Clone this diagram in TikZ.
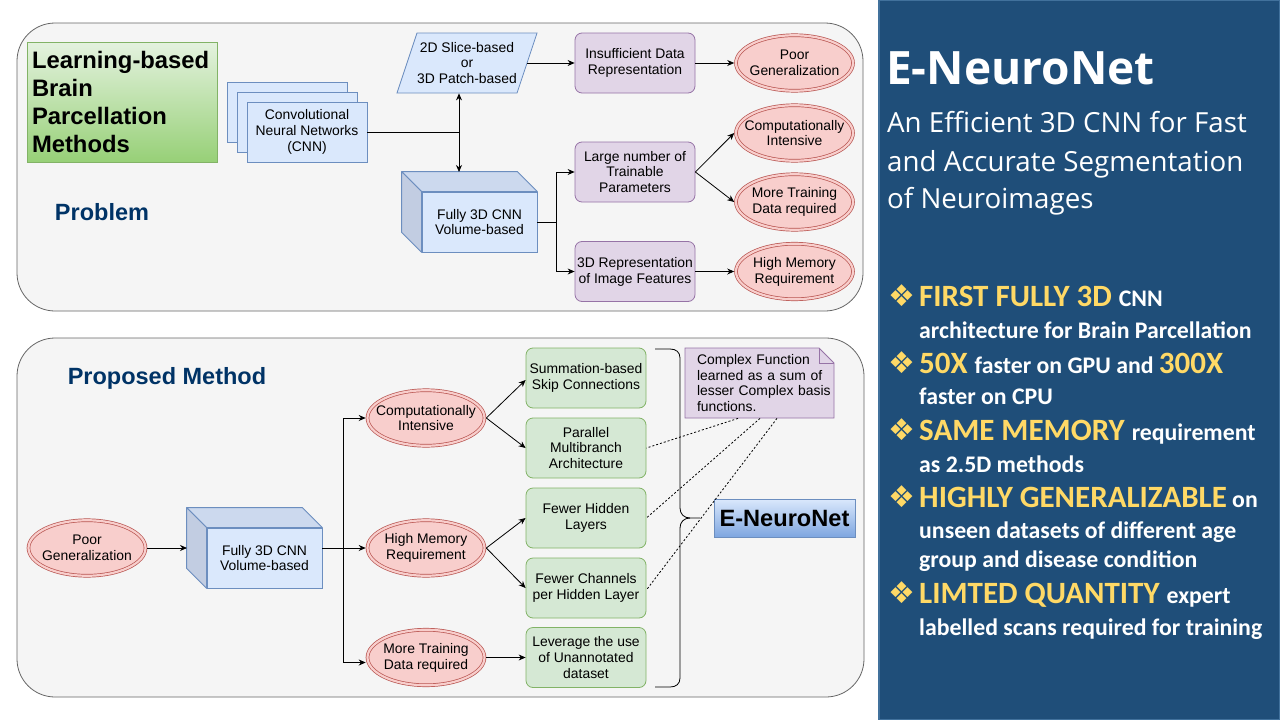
\documentclass[tikz,border=0pt]{standalone}
\usepackage{fontspec}
\setmainfont{Liberation Sans}
\newfontfamily\osfont{Open Sans}
\newfontfamily\crfont{Carlito}
\newfontfamily\djfont{DejaVu Sans}
\usetikzlibrary{shapes.geometric,arrows.meta,calc}
\definecolor{contF}{HTML}{F5F5F5}
\definecolor{contS}{HTML}{666666}
\definecolor{blueF}{HTML}{DAE8FC}
\definecolor{blueS}{HTML}{6C8EBF}
\definecolor{cubeTop}{HTML}{CCD9EE}
\definecolor{cubeSide}{HTML}{C2CDE2}
\definecolor{purF}{HTML}{E1D5E7}
\definecolor{purS}{HTML}{9673A6}
\definecolor{redF}{HTML}{F8CECC}
\definecolor{redS}{HTML}{B85450}
\definecolor{grnF}{HTML}{D5E8D4}
\definecolor{grnS}{HTML}{82B366}
\definecolor{grnTop}{HTML}{E4F2DF}
\definecolor{grnBot}{HTML}{97D077}
\definecolor{eTop}{HTML}{DAE8FC}
\definecolor{eBot}{HTML}{7EA6E0}
\definecolor{navy}{HTML}{003366}
\definecolor{panel}{HTML}{1F4E79}
\definecolor{panelS}{HTML}{41719C}
\definecolor{gold}{HTML}{FFD966}
\newcommand\dgf{\fontsize{13.9}{15.9}\selectfont}
\newcommand\ylw[1]{{\color{gold}\fontsize{31}{32}\selectfont #1}}
\tikzset{
  base/.style={font=\dgf, align=center, inner sep=0pt, line width=0.8pt},
  bluebox/.style={base, rectangle, draw=blueS, fill=blueF, minimum width=120pt, minimum height=60pt},
  purbox/.style={base, rectangle, rounded corners=7pt, draw=purS, fill=purF, minimum width=120pt, minimum height=60pt},
  grnbox/.style={base, rectangle, rounded corners=7pt, draw=grnS, fill=grnF, minimum width=120pt, minimum height=60pt},
  dbl/.style={ellipse, draw=redS, fill=redF, double=redF, double distance=2.2pt, line width=0.7pt,
     minimum width=117pt, minimum height=55.5pt, inner sep=0pt, outer sep=1.8pt,
     label={[font=\dgf, align=center, inner sep=0pt]center:{#1}}},
  container/.style={draw=contS, fill=contF, rounded corners=38pt, line width=0.8pt},
  ln/.style={line width=0.8pt, draw=black},
  arr/.style={ln, -{Stealth[length=7pt,width=6pt]}},
  dotln/.style={line width=0.8pt, dash pattern=on 2pt off 2pt},
  heading/.style={font=\bfseries\fontsize{23.5}{26}\selectfont, text=navy, inner sep=0pt},
  wtxt/.style={anchor=base west, inner sep=0pt, text=white, font=\crfont\bfseries\fontsize{23.8}{26}\selectfont},
  dia/.style={text=gold, inner sep=0pt, font=\djfont\fontsize{30}{30}\selectfont},
  sub/.style={anchor=base west, inner sep=0pt, text=white, font=\osfont\fontsize{27.7}{30}\selectfont}
}
\begin{document}
\begin{tikzpicture}[x=1pt,y=-1pt]
\useasboundingbox (0,0) rectangle (1280,720);
\fill[white] (0,0) rectangle (1280,720);

% ---------- right panel ----------
\node[draw=panelS, fill=panel, line width=1.5pt, minimum width=401pt, minimum height=720pt, inner sep=0pt] (panel) at (1079.5,360) {};
\node[anchor=base west, inner sep=0pt, text=white, font=\osfont\bfseries\fontsize{46}{50}\selectfont] (ttl) at (886,84) {E-NeuroNet};
\node[sub] (s1) at (887,132) {An Efficient 3D CNN for Fast};
\node[sub] (s2) at (887,171) {and Accurate Segmentation};
\node[sub] (s3) at (887,208) {of Neuroimages};

\node[dia] (d1) at (902,296) {❖};
\node[wtxt] (b1) at (919,306) {\ylw{FIRST FULLY 3D}\hspace{7pt}CNN};
\node[wtxt] (b1b) at (919,338) {architecture for Brain Parcellation};
\node[dia] (d2) at (902,363) {❖};
\node[wtxt] (b2) at (919,373) {\ylw{50X}\hspace{7pt}faster on GPU and \ylw{300X}};
\node[wtxt] (b2b) at (919,404) {faster on CPU};
\node[dia] (d3) at (902,430) {❖};
\node[wtxt] (b3) at (919,440) {\ylw{SAME MEMORY}\hspace{7pt}requirement};
\node[wtxt] (b3b) at (919,472) {as 2.5D methods};
\node[dia] (d4) at (902,497) {❖};
\node[wtxt] (b4) at (919,507) {\ylw{HIGHLY GENERALIZABLE} on};
\node[wtxt] (b4b) at (919,538) {unseen datasets of different age};
\node[wtxt] (b4c) at (919,567) {group and disease condition};
\node[dia] (d5) at (902,593) {❖};
\node[wtxt] (b5) at (919,603) {\ylw{LIMTED QUANTITY}\hspace{7pt}expert};
\node[wtxt] (b5b) at (919,635) {labelled scans required for training};

% ---------- top container ----------
\node[container, minimum width=846pt, minimum height=288pt] (topc) at (440,167) {};
\node[draw=grnS, top color=grnTop, bottom color=grnBot, line width=0.8pt, minimum width=190pt, minimum height=120pt,
      inner sep=0pt, text width=180pt, align=left, font=\bfseries\fontsize{23.8}{28}\selectfont] (lbpm) at (122,102)
      {Learning-based\\Brain\\Parcellation\\Methods};
\node[heading] (prob) at (102,212) {Problem};

\node[bluebox] (cnnA) at (287,112) {};
\node[bluebox] (cnnB) at (297,122) {};
\node[bluebox] (cnn) at (307,132) {Convolutional\\Neural Networks\\(CNN)};

\filldraw[fill=blueF, draw=blueS, line width=0.8pt] (397,93) -- (417,33) -- (537,33) -- (517,93) -- cycle;
\node[base, minimum width=140pt, minimum height=60pt] (para) at (467,63) {2D Slice-based\\or\\3D Patch-based};

\node[purbox] (ins) at (635,63) {Insufficient Data\\Representation};
\node[dbl={Poor\\Generalization}] (pg1) at (794.5,63) {};

\node[bluebox, minimum width=115pt] (cube1) at (479.5,222) {Fully 3D CNN\\Volume-based};
\filldraw[draw=blueS, fill=cubeTop, line width=0.8pt, line join=round] (cube1.north west) -- ++(-20,-20) -- ([shift={(-20,-20)}]cube1.north east) -- (cube1.north east) -- cycle;
\filldraw[draw=blueS, fill=cubeSide, line width=0.8pt, line join=round] (cube1.north west) -- ++(-20,-20) -- ([shift={(-20,-20)}]cube1.south west) -- (cube1.south west) -- cycle;

\node[purbox] (large) at (635,172) {Large number of\\Trainable\\Parameters};
\node[purbox] (rep3d) at (635,271.5) {3D Representation\\of Image Features};
\node[dbl={Computationally\\Intensive}] (ci1) at (794.5,133) {};
\node[dbl={More Training\\Data required}] (mt1) at (794.5,202) {};
\node[dbl={High Memory\\Requirement}] (hm1) at (794.5,271.5) {};

\coordinate (j1) at (459,132);
\coordinate (c1top) at (459,172);
\draw[ln] (cnn.east) -- (j1);
\draw[arr] (j1) -- (j1 |- para.south);
\draw[arr] (j1) -- (c1top);
\draw[arr] ([xshift=-10pt]para.east) -- (ins.west);
\draw[arr] (ins.east) -- (pg1.west);
\draw[ln] (cube1.east) -- ++(19,0) coordinate (j3);
\draw[arr] (j3) |- (large.west);
\draw[arr] (j3) |- (rep3d.west);
\draw[arr] (large.east) -- (ci1.west);
\draw[arr] (large.east) -- (mt1.west);
\draw[arr] (rep3d.east) -- (hm1.west);

% ---------- bottom container ----------
\node[container, minimum width=847pt, minimum height=359pt] (botc) at (440.5,517.5) {};
\node[heading] (prop) at (167,378) {Proposed Method};

\node[dbl={Poor\\Generalization}] (pg2) at (87,548) {};
\node[bluebox, minimum width=115pt] (cube2) at (264.5,558) {Fully 3D CNN\\Volume-based};
\filldraw[draw=blueS, fill=cubeTop, line width=0.8pt, line join=round] (cube2.north west) -- ++(-20,-20) -- ([shift={(-20,-20)}]cube2.north east) -- (cube2.north east) -- cycle;
\filldraw[draw=blueS, fill=cubeSide, line width=0.8pt, line join=round] (cube2.north west) -- ++(-20,-20) -- ([shift={(-20,-20)}]cube2.south west) -- (cube2.south west) -- cycle;
\coordinate (c2left) at (187,548);

\node[dbl={Computationally\\Intensive}] (ci2) at (426,418) {};
\node[dbl={High Memory\\Requirement}] (hm2) at (426,548) {};
\node[dbl={More Training\\Data required}] (mt2) at (426,657.5) {};

\node[grnbox] (sum) at (586,378) {Summation-based\\Skip Connections};
\node[grnbox] (par) at (586,448) {Parallel\\Multibranch\\Architecture};
\node[grnbox] (fh) at (586,518) {Fewer Hidden\\Layers};
\node[grnbox] (fc) at (586,588) {Fewer Channels\\per Hidden Layer};
\node[grnbox] (lev) at (586,657.5) {Leverage the use\\of Unannotated\\dataset};

\draw[arr] (pg2.east) -- (c2left);
\draw[ln] (cube2.east |- hm2.west) -- ++(21,0) coordinate (j2);
\draw[arr] (j2) -- (hm2.west);
\draw[arr] (j2) |- (ci2.west);
\draw[arr] (j2) |- ([yshift=-5pt]mt2.west);
\draw[arr] (ci2.east) -- ([yshift=-2pt]sum.west);
\draw[arr] (ci2.east) -- (par.west);
\draw[arr] (hm2.east) -- (fh.west);
\draw[arr] (hm2.east) -- (fc.west);
\draw[arr] (mt2.east) -- (lev.west);

% brace
\coordinate (brtip) at (700,518);
\draw[ln, line join=round] (655,349) -- (670,349) .. controls (676,349) and (680,352) .. (680,358) -- (680,508)
   .. controls (680,514) and (684,518) .. (690,518) -- (brtip);
\draw[ln, line join=round] (690,518) .. controls (684,518) and (680,522) .. (680,528) -- (680,678)
   .. controls (680,684) and (676,687) .. (670,687) -- (655,687);

% note
\filldraw[fill=purF, draw=purS, line width=0.8pt] (685,348) -- (819,348) -- (834,363) -- (834,418) -- (685,418) -- cycle;
\draw[purS, line width=0.8pt] (819,348) -- (819,363) -- (834,363);
\node[base, align=left, text width=137pt, minimum height=70pt] (note) at (765.5,383)
   {Complex Function\\learned as a sum of\\lesser Complex basis\\functions.};

\node[base, draw=blueS, top color=eTop, bottom color=eBot, minimum width=141pt, minimum height=38pt,
      font=\bfseries\fontsize{23.6}{26}\selectfont] (enet) at (784.5,518) {E-NeuroNet};

\draw[dotln] ([xshift=-27.5pt]note.south) -- (par.east);
\draw[dotln] ([xshift=-5.5pt]note.south) -- (fh.east);
\draw[dotln] ([xshift=11.5pt]note.south) -- ([yshift=-2pt]fc.east);
\end{tikzpicture}
\end{document}
